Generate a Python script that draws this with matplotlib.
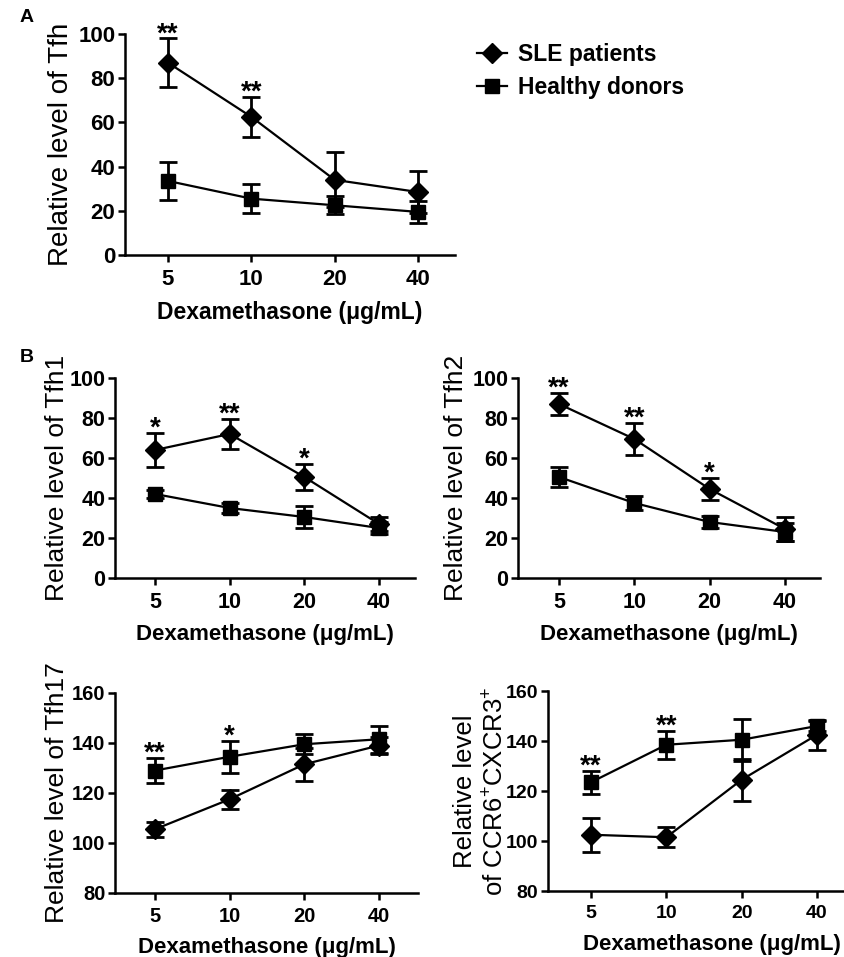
import matplotlib
matplotlib.use("Agg")
import matplotlib.pyplot as plt
from matplotlib.lines import Line2D

plt.rcParams['font.family'] = ['Liberation Sans', 'DejaVu Sans']
plt.rcParams['mathtext.fontset'] = 'custom'
plt.rcParams['mathtext.rm'] = 'Liberation Sans'
plt.rcParams['mathtext.bf'] = 'Liberation Sans:bold'

doses = ['5', '10', '20', '40']
xlabel_text = 'Dexamethasone (μg/mL)'
legend_labels = ['SLE patients', 'Healthy donors']

# Panel A: Tfh
tfh_sle = [87, 62.5, 34, 28.5]
tfh_sle_err = [11, 9, 12.5, 9.5]
tfh_hd = [33.5, 25.5, 22.5, 19.5]
tfh_hd_err = [8.5, 6.5, 4, 5]
tfh_stars = ['**', '**', '', '']

# Panel B: Tfh1
tfh1_sle = [64, 72, 50.5, 27]
tfh1_sle_err = [8.5, 7.5, 6.5, 3.5]
tfh1_hd = [42, 35, 30.5, 25]
tfh1_hd_err = [2, 2.5, 5.5, 3]
tfh1_stars = ['*', '**', '*', '']

# Panel B: Tfh2
tfh2_sle = [87, 69.5, 44.5, 24.5]
tfh2_sle_err = [5.5, 8, 5.5, 6]
tfh2_hd = [50.5, 37.5, 28, 23]
tfh2_hd_err = [5, 3.5, 3, 4.5]
tfh2_stars = ['**', '**', '*', '']

# Panel B: Tfh17
tfh17_sle = [105.5, 117.5, 131.5, 139]
tfh17_sle_err = [3, 3.8, 6.5, 3.5]
tfh17_hd = [129, 134.5, 139.5, 141.5]
tfh17_hd_err = [5, 6.5, 4, 5.5]
tfh17_stars = ['**', '*', '', '']

# Panel B: CCR6+CXCR3+
ccr_sle = [102.5, 101.5, 124.5, 142.5]
ccr_sle_err = [6.7, 4, 8.5, 6]
ccr_hd = [123.5, 138.5, 140.5, 146]
ccr_hd_err = [4.7, 5.5, 8.3, 2]
ccr_stars = ['**', '**', '', '']

W, H = 845, 957
fig = plt.figure(figsize=(W / 100, H / 100), dpi=100)


def make_ax(l, r, t, b, p0, p3):
    ax = fig.add_axes([l / W, 1 - b / H, (r - l) / W, (b - t) / H])
    s = (p3 - p0) / 3
    ax.set_xlim((l - p0) / s, (r - p0) / s)
    return ax


def draw(ax, sle, sle_err, hd, hd_err, stars, ylim, yticks, ylabel,
         ylab_x, ylab_fs, tick_fs, xlab_fs, xlab_xy):
    xs = list(range(len(doses)))
    ax.errorbar(xs, sle, yerr=sle_err, color='black', marker='D', ms=10,
                lw=1.6, elinewidth=2, capsize=6.5, capthick=2, zorder=3)
    ax.errorbar(xs, hd, yerr=hd_err, color='black', marker='s', ms=10.5,
                lw=1.6, elinewidth=2, capsize=6.5, capthick=2, zorder=3)
    for x, st, v, e, v2, e2 in zip(xs, stars, sle, sle_err, hd, hd_err):
        if st:
            top = max(v + e, v2 + e2)
            ax.annotate(st, (x, top), xytext=(0, -2), textcoords='offset points',
                        ha='center', va='baseline', fontsize=20, fontweight='bold')
    ax.set_ylim(*ylim)
    ax.set_yticks(yticks)
    ax.set_xticks(xs)
    ax.set_xticklabels(doses)
    for sp in ['top', 'right']:
        ax.spines[sp].set_visible(False)
    for sp in ['left', 'bottom']:
        ax.spines[sp].set_linewidth(1.8)
    ax.tick_params(width=1.8, length=5, labelsize=tick_fs)
    ax.tick_params(axis='y', pad=2)
    ax.tick_params(axis='x', pad=5)
    for lab in ax.get_xticklabels() + ax.get_yticklabels():
        lab.set_fontweight('bold')
    ax.set_ylabel(ylabel, fontsize=ylab_fs)
    ax.yaxis.set_label_coords(ylab_x, 0.5)
    ax.set_xlabel(xlabel_text, fontsize=xlab_fs, fontweight='bold')
    ax.xaxis.set_label_coords(*xlab_xy)
    ax.xaxis.label.set_va('top')


# Panel A
axA = make_ax(125, 455, 34, 255, 168, 418)
draw(axA, tfh_sle, tfh_sle_err, tfh_hd, tfh_hd_err, tfh_stars, (0, 100),
     [0, 20, 40, 60, 80, 100], 'Relative level of Tfh', -0.155, 20,
     16, 16.5, (0.5, -0.208))

# Panel B1
axB1 = make_ax(115, 415, 378, 578, 155, 379)
draw(axB1, tfh1_sle, tfh1_sle_err, tfh1_hd, tfh1_hd_err, tfh1_stars, (0, 100),
     [0, 20, 40, 60, 80, 100], 'Relative level of Tfh1', -0.153, 19,
     15.5, 16, (0.5, -0.23))

# Panel B2
axB2 = make_ax(518, 820, 378, 578, 559, 785)
draw(axB2, tfh2_sle, tfh2_sle_err, tfh2_hd, tfh2_hd_err, tfh2_stars, (0, 100),
     [0, 20, 40, 60, 80, 100], 'Relative level of Tfh2', -0.166, 19,
     15.5, 16, (0.5, -0.23))

# Panel B3
axB3 = make_ax(115, 418, 693, 893, 155, 379)
draw(axB3, tfh17_sle, tfh17_sle_err, tfh17_hd, tfh17_hd_err, tfh17_stars, (80, 160),
     [80, 100, 120, 140, 160], 'Relative level of Tfh17', -0.152, 19,
     14.5, 16, (0.5, -0.22))

# Panel B4
axB4 = make_ax(548, 845, 691, 891, 591, 817)
draw(axB4, ccr_sle, ccr_sle_err, ccr_hd, ccr_hd_err, ccr_stars, (80, 160),
     [80, 100, 120, 140, 160],
     'Relative level\nof CCR6$^{+}$CXCR3$^{+}$', -0.138, 18.5,
     14, 16, (0.552, -0.215))

# Panel letters
fig.text(20 / W, 1 - 18 / H, 'A', fontsize=14, fontweight='bold', va='center')
fig.text(20 / W, 1 - 358 / H, 'B', fontsize=14, fontweight='bold', va='center')

# Legend
handles = [Line2D([], [], color='black', marker='D', ms=10, lw=1.6),
           Line2D([], [], color='black', marker='s', ms=10.5, lw=1.6)]
fig.legend(handles, legend_labels, loc='upper left',
           bbox_to_anchor=(468 / W, 1 - 34 / H), frameon=False,
           prop={'size': 16.5, 'weight': 'bold'}, handlelength=1.3,
           handletextpad=0.5, labelspacing=0.45, borderaxespad=0)

fig.savefig('out.png', dpi=100)
